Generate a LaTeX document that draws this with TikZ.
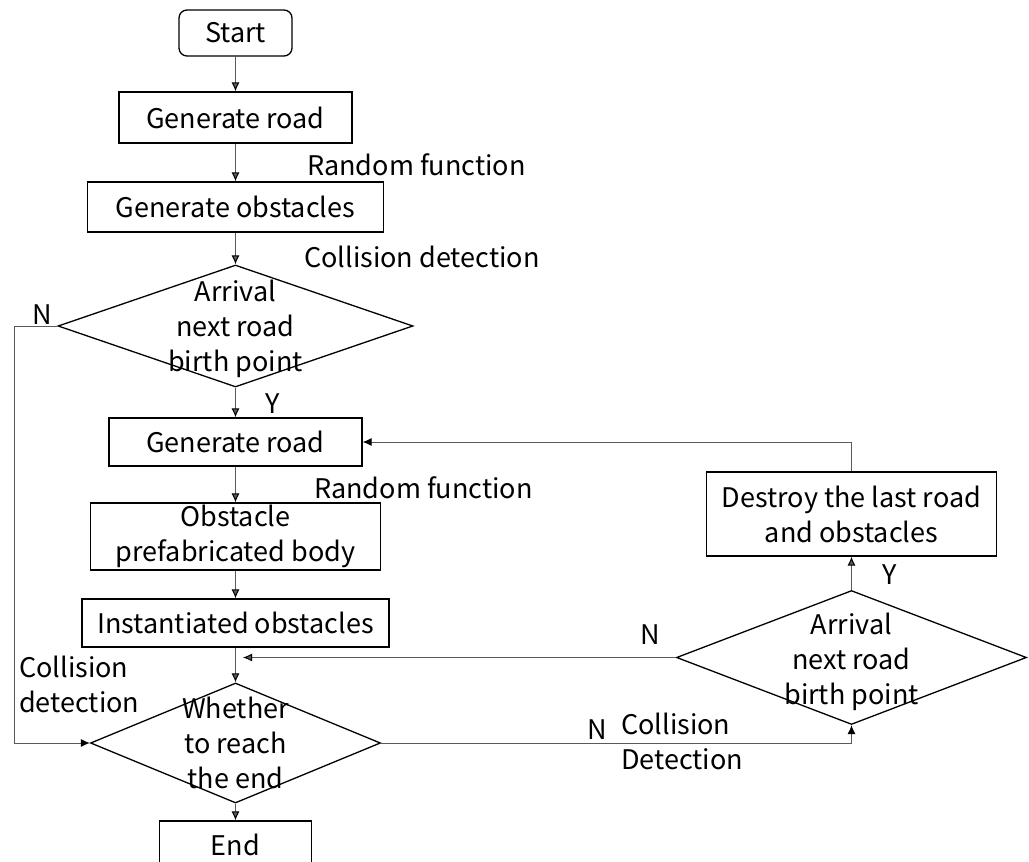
\documentclass[tikz,border=0pt]{standalone}
\usepackage{fontspec}
\setmainfont{Noto Sans CJK SC}
\usetikzlibrary{shapes.geometric}
\usetikzlibrary{arrows.meta}
\usetikzlibrary{positioning}
\tikzstyle{flow} = [black!65, line width=1pt, -{Latex[length=9pt,width=8pt,color=black]}]
\tikzstyle{side} = [align=left, anchor=west, inner sep=0pt]

\begin{document}
\begin{tikzpicture}[x=1pt, y=-1pt,
                    every node/.style={font=\fontsize{27}{35}\selectfont, text=black},
                    box node/.style={draw=black, line width=1.3pt, inner sep=0pt, align=center},
                    test node/.style={diamond, draw=black, line width=1.3pt, inner sep=0pt}]
  \useasboundingbox (0,0) rectangle (1029,862);

  % main column
  \node[box node, rounded corners=8pt, minimum width=113pt, minimum height=46pt] (start) at (235.5,33) {Start};
  \node[box node, minimum width=233pt, minimum height=51pt] (road) [below of=start, node distance=84.5pt] {Generate road};
  \node[box node, minimum width=296pt, minimum height=50pt] (obst) [below of=road, node distance=89.5pt] {Generate obstacles};
  \node[test node, minimum width=355pt, minimum height=122pt,
        label={[align=center, yshift=-3pt]center:Arrival\\next road\\birth point}] (arrive) [below of=obst, node distance=119pt] {};
  \node[box node, minimum width=253pt, minimum height=48pt] (road2) [below of=arrive, node distance=116pt] {Generate road};
  \node[box node, minimum width=290pt, minimum height=67pt] (prefab) [below of=road2, node distance=94.5pt] {Obstacle\\prefabricated body};
  \node[box node, minimum width=307pt, minimum height=48pt] (inst) [below of=prefab, node distance=86.5pt] {Instantiated obstacles};
  \node[test node, minimum width=290pt, minimum height=120pt,
        label={[align=center]center:Whether\\to reach\\the end}] (reach) [below of=inst, node distance=120pt] {};
  \node[box node, minimum width=152pt, minimum height=48pt] (end) [below of=reach, node distance=102pt] {End};

  % right column
  \node[test node, minimum width=350pt, minimum height=134pt,
        label={[align=center, yshift=-4pt]center:Arrival\\next road\\birth point}] (arrive2) at (851.5,657.5) {};
  \node[box node, minimum width=290pt, minimum height=84pt] (destroy) [above of=arrive2, node distance=143.5pt] {Destroy the last road\\and obstacles};

  % labels
  \node[side] (rand1) at (307,165) {Random function};
  \node[side] (coll1) at (304,257) {Collision detection};
  \node (n1) at (42,315) {N};
  \node (y1) at (273,404) {Y};
  \node[side] (rand2) at (314,488) {Random function};
  \node[side] (coll2) at (19,684.5) {Collision\\detection};
  \node (n2) at (597,730) {N};
  \node[side] (coll3) at (621,741.5) {Collision\\Detection};
  \node (n3) at (650,635) {N};
  \node (y2) at (890,575) {Y};

  \coordinate (rail) at (14,326);
  \coordinate (gap) at (243,657.5);

  \path[flow]
  (start) edge (road)
  (road) edge (obst)
  (obst) edge (arrive)
  (arrive) edge (road2)
  (road2) edge (prefab)
  (prefab) edge (inst)
  (inst) edge (reach)
  (reach) edge (end)
  (arrive2) edge (destroy)
  (arrive2.west) edge (gap)
  ;

  \draw[flow] (arrive.west) -- (rail) |- (reach.west);
  \draw[flow] (reach.east) -| (arrive2.south);
  \draw[flow] (destroy.north) |- (road2.east);
\end{tikzpicture}
\end{document}
